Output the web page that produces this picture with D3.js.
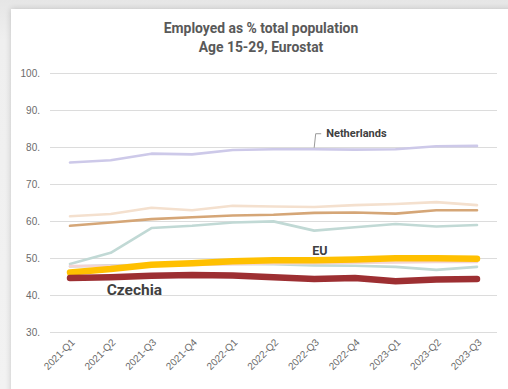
<!DOCTYPE html>
<html>
<head>
<meta charset="utf-8">
<script src="https://cdn.jsdelivr.net/npm/d3@7/dist/d3.min.js"></script>
<style>
  html, body { margin: 0; padding: 0; }
  body {
    width: 508px; height: 389px; overflow: hidden;
    background: linear-gradient(#e6e6e6, #efefef 40px, #f2f2f2);
    position: relative;
  }
  #card {
    position: absolute; left: 11px; top: 9px; width: 520px; height: 400px;
    background: #fff;
    box-shadow: 0 0 6px rgba(0,0,0,0.18);
  }
  svg { position: absolute; left: 0; top: 0; }
</style>
</head>
<body>
<div id="card"></div>
<svg id="chart" width="508" height="389"></svg>
<script>
// Quarters on the x axis
const quarters = ["2021-Q1","2021-Q2","2021-Q3","2021-Q4","2022-Q1","2022-Q2","2022-Q3","2022-Q4","2023-Q1","2023-Q2","2023-Q3"];
// Y axis ticks
const yTicks = [30, 40, 50, 60, 70, 80, 90, 100];

// Employment rate, age 15-29 (% of total population)
const netherlands = [75.8, 76.4, 78.2, 78.0, 79.2, 79.4, 79.4, 79.3, 79.4, 80.2, 80.3];
const peach       = [61.3, 61.9, 63.6, 62.9, 64.1, 63.9, 63.8, 64.3, 64.6, 65.1, 64.3];
const tan         = [58.7, 59.6, 60.5, 61.0, 61.5, 61.7, 62.2, 62.3, 62.0, 62.9, 62.9];
const teal        = [48.4, 51.4, 58.1, 58.7, 59.6, 59.9, 57.4, 58.3, 59.2, 58.5, 58.9];
const tealLow     = [47.7, 48.0, 48.1, 48.3, 48.4, 48.3, 48.0, 47.9, 47.6, 46.8, 47.6];
const pink        = [47.8, 47.9, 48.0, 48.1, 48.3, 48.5, 48.6, 48.7, 48.8, 48.9, 48.9];
const eu          = [46.1, 47.0, 48.2, 48.6, 49.1, 49.4, 49.4, 49.6, 49.9, 49.9, 49.8];
const czechia     = [44.6, 44.8, 45.2, 45.4, 45.3, 44.8, 44.3, 44.6, 43.7, 44.2, 44.3];

const series = [
  { name: "peach",       values: peach,       color: "#f4e0ce", width: 2.6 },
  { name: "tan",         values: tan,         color: "#d5a677", width: 2.6 },
  { name: "teal",        values: teal,        color: "#c1d9d5", width: 2.6 },
  { name: "tealLow",     values: tealLow,     color: "#c1d9d5", width: 2.6 },
  { name: "pink",        values: pink,        color: "#f3d4d4", width: 2.6 },
  { name: "Netherlands", values: netherlands, color: "#cdc9e9", width: 2.6 },
  { name: "EU",          values: eu,          color: "#ffc000", width: 6.5 },
  { name: "Czechia",     values: czechia,     color: "#9d2f32", width: 6.5 }
];

const svg = d3.select("#chart");
const plotLeft = 50, plotRight = 497, plotTop = 73, plotBottom = 332;

const x = d3.scalePoint().domain(quarters).range([70, 477]);
const y = d3.scaleLinear().domain([30, 100]).range([plotBottom, plotTop]);

// Title
const title = svg.append("g")
  .attr("font-family", "Roboto, sans-serif")
  .attr("font-weight", 700)
  .attr("font-size", 13.9)
  .attr("fill", "#595959")
  .attr("text-anchor", "middle");
title.append("text").attr("x", 261).attr("y", 33).text("Employed as % total population");
title.append("text").attr("x", 261).attr("y", 51.5).text("Age 15-29, Eurostat");

// Horizontal gridlines and y axis labels
const yAxis = d3.axisLeft(y)
  .tickValues(yTicks)
  .tickSize(-(plotRight - plotLeft))
  .tickPadding(10)
  .tickFormat(d => d + ".");
const gy = svg.append("g").attr("transform", `translate(${plotLeft},0)`).call(yAxis);
gy.select(".domain").remove();
gy.selectAll(".tick line").attr("stroke", "#dcdcdc").attr("stroke-width", 1);
gy.selectAll(".tick text")
  .attr("font-family", "'Liberation Sans', Arial, sans-serif")
  .attr("font-size", 10)
  .attr("fill", "#6b6b6b");

// X axis labels, rotated
const xAxis = d3.axisBottom(x).tickSize(0).tickPadding(0);
const gx = svg.append("g").attr("transform", `translate(0,${plotBottom})`).call(xAxis);
gx.select(".domain").remove();
gx.selectAll(".tick text")
  .attr("font-family", "'Liberation Sans', Arial, sans-serif")
  .attr("font-size", 10)
  .attr("fill", "#6b6b6b")
  .attr("text-anchor", "end")
  .attr("dy", null)
  .attr("transform", "translate(5,11) rotate(-45)");

// Lines
const line = d3.line()
  .x((d, i) => x(quarters[i]))
  .y(d => y(d));

svg.append("g").selectAll("path")
  .data(series)
  .join("path")
  .attr("d", d => line(d.values))
  .attr("fill", "none")
  .attr("stroke", d => d.color)
  .attr("stroke-width", d => d.width)
  .attr("stroke-linecap", "round")
  .attr("stroke-linejoin", "round");

// Labels
const labels = svg.append("g")
  .attr("font-family", "Roboto, sans-serif")
  .attr("font-weight", 700)
  .attr("fill", "#404040");

// Netherlands with leader line
const nlX = x(quarters[6]), nlY = y(netherlands[6]);
svg.append("path")
  .attr("d", `M${nlX},${nlY - 1.5} L${nlX + 1.5},${nlY - 15.5} L${nlX + 7},${nlY - 15.5}`)
  .attr("fill", "none")
  .attr("stroke", "#9a9a9a")
  .attr("stroke-width", 1);
labels.append("text")
  .attr("x", nlX + 12).attr("y", nlY - 12)
  .attr("font-size", 11)
  .text("Netherlands");

labels.append("text")
  .attr("x", x(quarters[6]) - 2).attr("y", y(eu[6]) - 5)
  .attr("font-size", 12.5)
  .text("EU");

labels.append("text")
  .attr("x", x(quarters[1]) - 4).attr("y", y(czechia[1]) + 18)
  .attr("font-size", 15.5)
  .text("Czechia");
</script>
</body>
</html>
